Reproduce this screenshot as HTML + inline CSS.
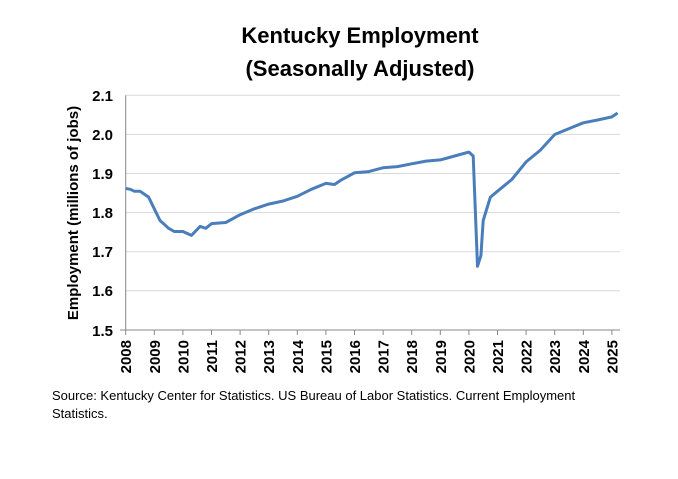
<!DOCTYPE html>
<html><head><style>
body{margin:0;background:#fff;width:678px;height:474px;overflow:hidden;font-family:"Liberation Sans",Arial,sans-serif}
</style></head><body>
<svg width="678" height="474" xmlns="http://www.w3.org/2000/svg" font-family="Liberation Sans, Arial, sans-serif">
<text x="360" y="43" text-anchor="middle" font-size="22" font-weight="bold">Kentucky Employment</text>
<text x="360" y="76" text-anchor="middle" font-size="22" font-weight="bold">(Seasonally Adjusted)</text>
<g stroke="#d9d9d9" stroke-width="1">
<line x1="125.7" x2="620" y1="95.3" y2="95.3"/><line x1="125.7" x2="620" y1="134.4" y2="134.4"/>
<line x1="125.7" x2="620" y1="173.5" y2="173.5"/><line x1="125.7" x2="620" y1="212.6" y2="212.6"/>
<line x1="125.7" x2="620" y1="251.7" y2="251.7"/><line x1="125.7" x2="620" y1="290.8" y2="290.8"/>
</g>
<g stroke="#888" stroke-width="1">
<line x1="125.7" x2="125.7" y1="95.3" y2="330"/><line x1="120" x2="620" y1="330" y2="330"/>
</g>
<g id="ticks" stroke="#888"></g>
<g font-size="15" font-weight="bold" text-anchor="end">
<text x="113" y="101">2.1</text><text x="113" y="140">2.0</text><text x="113" y="179">1.9</text>
<text x="113" y="218">1.8</text><text x="113" y="257">1.7</text><text x="113" y="296">1.6</text><text x="113" y="336">1.5</text>
</g>
<g id="xl" font-size="15" font-weight="bold"></g>
<text transform="translate(78,213) rotate(-90)" text-anchor="middle" font-size="15" font-weight="bold">Employment (millions of jobs)</text>
<path id="ln" fill="none" stroke="#4a7ebb" stroke-width="3" stroke-linejoin="round"/>
<text x="52" y="400" font-size="13">Source: Kentucky Center for Statistics. US Bureau of Labor Statistics. Current Employment</text>
<text x="52" y="418" font-size="13">Statistics.</text>
</svg>
<script>
var X=function(t){return 125.7+28.6*(t-2008)},Y=function(v){return 330-(v-1.5)*391};
var ns="http://www.w3.org/2000/svg",tk=document.getElementById("ticks"),xl=document.getElementById("xl");
for(var y=2008;y<=2025;y++){var x=X(y);var l=document.createElementNS(ns,"line");l.setAttribute("x1",x);l.setAttribute("x2",x);l.setAttribute("y1",330);l.setAttribute("y2",335);tk.appendChild(l);
var t=document.createElementNS(ns,"text");t.setAttribute("transform","translate("+(x+5.5)+",340) rotate(-90)");t.setAttribute("text-anchor","end");t.textContent=y;xl.appendChild(t);}
var d=[[2008,1.862],[2008.15,1.86],[2008.3,1.855],[2008.5,1.855],[2008.8,1.84],[2009,1.81],[2009.2,1.78],[2009.5,1.76],[2009.7,1.752],[2010,1.752],[2010.3,1.742],[2010.6,1.765],[2010.8,1.76],[2011,1.772],[2011.5,1.775],[2012,1.795],[2012.5,1.81],[2013,1.822],[2013.5,1.83],[2014,1.842],[2014.5,1.86],[2015,1.875],[2015.3,1.872],[2015.5,1.882],[2016,1.902],[2016.5,1.905],[2017,1.915],[2017.5,1.918],[2018,1.925],[2018.5,1.932],[2019,1.935],[2019.5,1.945],[2020,1.955],[2020.15,1.945],[2020.3,1.663],[2020.42,1.69],[2020.5,1.78],[2020.75,1.84],[2021,1.855],[2021.5,1.885],[2022,1.93],[2022.5,1.96],[2023,2.0],[2023.5,2.015],[2024,2.03],[2024.5,2.037],[2025,2.045],[2025.2,2.055]];
var p="";for(var i=0;i<d.length;i++)p+=(i?"L":"M")+X(d[i][0]).toFixed(1)+","+Y(d[i][1]).toFixed(1);
document.getElementById("ln").setAttribute("d",p);
</script>
</body></html>
